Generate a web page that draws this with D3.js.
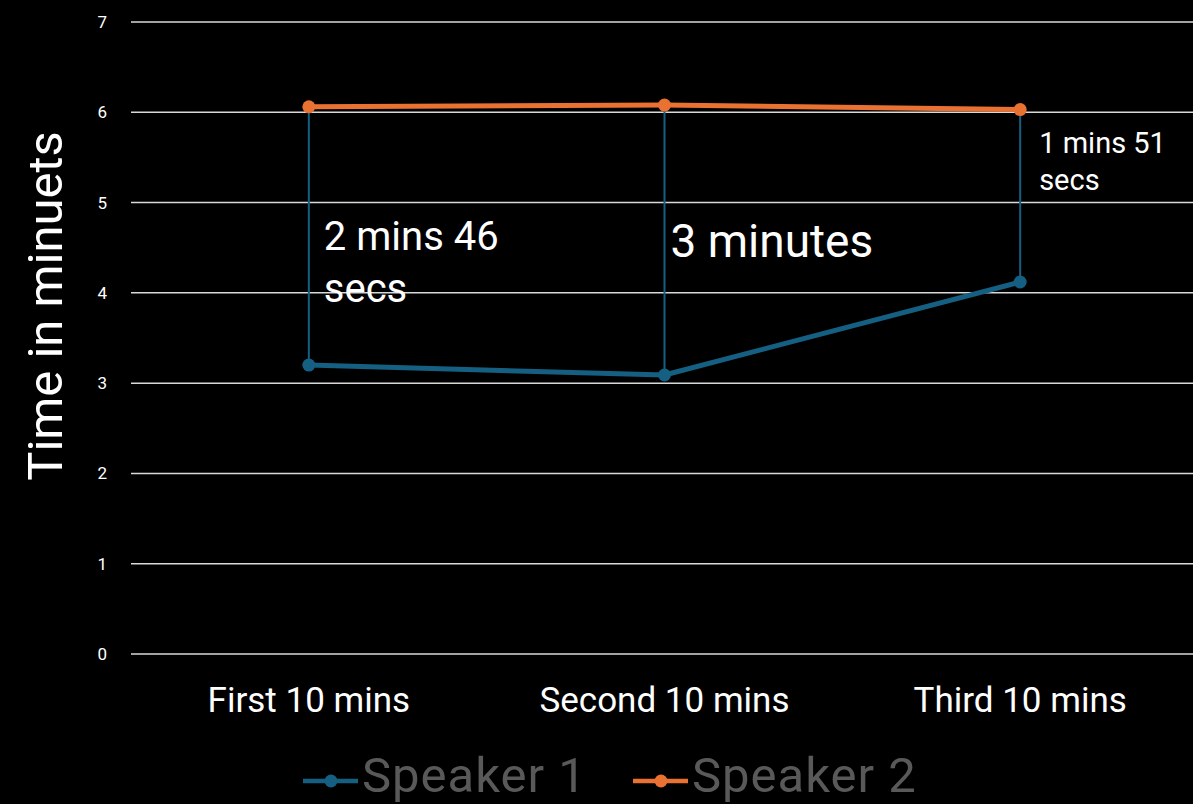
<!DOCTYPE html>
<html><head><meta charset="utf-8">
<script src="https://cdn.jsdelivr.net/npm/d3@7"></script>
<style>html,body{margin:0;padding:0;background:#000;}svg{display:block;}</style>
</head><body>
<script>
const categories = ["First 10 mins", "Second 10 mins", "Third 10 mins"];
const speaker1 = [3.20, 3.09, 4.12];
const speaker2 = [6.06, 6.08, 6.03];
const yTicks = [0, 1, 2, 3, 4, 5, 6, 7];
const seriesNames = ["Speaker 1", "Speaker 2"];
const annotations = [["2 mins 46", "secs"], ["3 minutes"], ["1 mins 51", "secs"]];

const W = 1193, H = 804;
const colors = ["#156082", "#E97132"];
const font = "Roboto, 'Noto Sans', sans-serif";
const svg = d3.select("body").append("svg").attr("width", W).attr("height", H).style("background", "#000");

const x = d3.scaleBand().domain(categories).range([131, 1198]);
const y = d3.scaleLinear().domain([0, 7]).range([654, 22]);
const cx = c => x(c) + x.bandwidth() / 2;

// gridlines
svg.append("g").selectAll("line").data(yTicks).join("line")
  .attr("x1", 131).attr("x2", W).attr("y1", d => y(d)).attr("y2", d => y(d))
  .attr("stroke", "#d9d9d9").attr("stroke-width", 1.5);

// y axis labels
const yAxis = svg.append("g").attr("transform", "translate(107,0)")
  .call(d3.axisLeft(y).tickValues(yTicks).tickFormat(d3.format("d")).tickSize(0).tickPadding(0));
yAxis.select(".domain").remove();
yAxis.selectAll("text").attr("fill", "#fff").style("font-family", font).style("font-size", "17px");

// x axis labels
const xAxis = svg.append("g").attr("transform", "translate(0,712)")
  .call(d3.axisBottom(x).tickSize(0).tickPadding(0));
xAxis.select(".domain").remove();
xAxis.selectAll("text").attr("fill", "#fff").style("font-family", font).style("font-size", "35px")
  .attr("y", 0).attr("dy", 0);

// y title
svg.append("text").attr("transform", "translate(62,306) rotate(-90)")
  .attr("text-anchor", "middle").attr("fill", "#fff")
  .style("font-family", font).style("font-size", "49px").text("Time in minuets");

// high-low drop lines
svg.append("g").selectAll("line").data(categories).join("line")
  .attr("x1", d => cx(d)).attr("x2", d => cx(d))
  .attr("y1", (d, i) => y(speaker2[i])).attr("y2", (d, i) => y(speaker1[i]))
  .attr("stroke", colors[0]).attr("stroke-width", 2);

// series lines
const line = d3.line().x((d, i) => cx(categories[i])).y(d => y(d));
[speaker1, speaker2].forEach((s, k) => {
  svg.append("path").datum(s).attr("d", line).attr("fill", "none")
    .attr("stroke", colors[k]).attr("stroke-width", 5).attr("stroke-linejoin", "round");
  svg.append("g").selectAll("circle").data(s).join("circle")
    .attr("cx", (d, i) => cx(categories[i])).attr("cy", d => y(d)).attr("r", 6.5)
    .attr("fill", colors[k]);
});

// annotations
const annPos = [
  {dx: 15, y0: 250, size: 40, lh: 52},
  {dx: 6, y0: 257, size: 46, lh: 52},
  {dx: 19, y0: 153, size: 29, lh: 37}
];
annotations.forEach((lines, i) => {
  const p = annPos[i];
  const t = svg.append("text").attr("fill", "#fff").style("font-family", font).style("font-size", p.size + "px");
  lines.forEach((l, j) => t.append("tspan").attr("x", cx(categories[i]) + p.dx).attr("y", p.y0 + j * p.lh).text(l));
});

// legend
const legX = [303, 633];
seriesNames.forEach((n, k) => {
  const g = svg.append("g").attr("transform", `translate(${legX[k]},781)`);
  g.append("line").attr("x1", 0).attr("x2", 55).attr("stroke", colors[k]).attr("stroke-width", 4.5);
  g.append("circle").attr("cx", 28).attr("r", 6.5).attr("fill", colors[k]);
  g.append("text").attr("x", 59).attr("y", 11).attr("fill", "#595959")
    .style("font-family", font).style("font-size", "49px").style("letter-spacing", "1px").text(n);
});
</script>
</body></html>
